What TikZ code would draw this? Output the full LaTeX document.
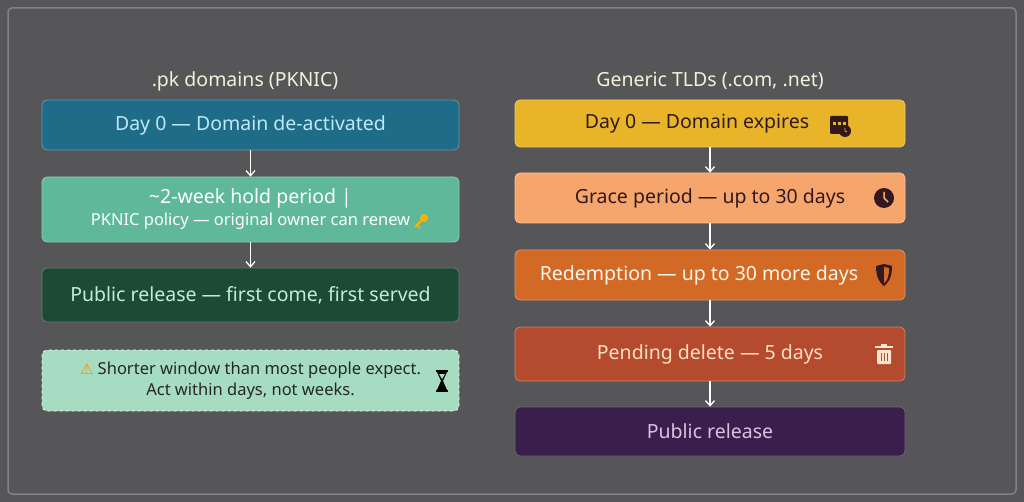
\documentclass[tikz,border=0pt]{standalone}
\usepackage{fontspec}
\setmainfont{Noto Sans}
\newfontfamily\symfont{DejaVu Sans}
\usetikzlibrary{positioning, arrows.meta, calc}
\definecolor{bgouter}{RGB}{86,86,88}
\definecolor{frameline}{RGB}{130,130,132}
\definecolor{pkblue}{RGB}{31,108,137}
\definecolor{pkbluetext}{RGB}{190,232,245}
\definecolor{pkmint}{RGB}{95,184,154}
\definecolor{pkdark}{RGB}{28,74,52}
\definecolor{pkdarktext}{RGB}{190,240,210}
\definecolor{pknote}{RGB}{166,220,193}
\definecolor{gyellow}{RGB}{232,181,42}
\definecolor{gpeach}{RGB}{246,166,108}
\definecolor{gorange}{RGB}{210,105,36}
\definecolor{grust}{RGB}{180,74,46}
\definecolor{gpurple}{RGB}{58,30,76}
\definecolor{titletext}{RGB}{245,240,215}
\definecolor{icondark}{RGB}{50,25,30}

\tikzset{
    stage/.style={rectangle, rounded corners=5pt, draw=#1!70!white, fill=#1, line width=0.8pt, align=center, inner sep=0pt, font=\fontsize{19.5}{23}\selectfont},
    leftstage/.style={stage=#1, minimum width=417pt},
    rightstage/.style={stage=#1, minimum width=390pt},
    coltitle/.style={font=\fontsize{19.5}{23}\selectfont, text=titletext},
    flow/.style={-{Straight Barb[length=5pt,width=9pt]}, draw=white, line width=1.3pt},
}

\begin{document}
\begin{tikzpicture}[x=1pt, y=-1pt]
    % background and frame
    \fill[bgouter] (0,0) rectangle (1024,502);
    \draw[frameline, line width=1.5pt, rounded corners=4pt] (8,8) rectangle (1016,494);
    \useasboundingbox (0,0) rectangle (1024,502);

    % .pk column
    \node[coltitle] (pktitle) at (245,81) {.pk domains (PKNIC)};
    \node[leftstage=pkblue, minimum height=50pt, text=pkbluetext] (pk0) at (250.5,125) {Day 0 — Domain de-activated};
    \node[leftstage=pkmint, minimum height=65pt, text=white] (pk1) at (250.5,209.5)
        {\textasciitilde 2-week hold period |\\[-1pt]
         {\fontsize{16.5}{19}\selectfont PKNIC policy — original owner can renew\hspace{22pt}}};
    \node[leftstage=pkdark, minimum height=54pt, text=pkdarktext] (pk2) at (250.5,295) {Public release — first come, first served};
    \node[leftstage=pknote, draw=white!80!pknote, dashed, minimum height=61pt, text=black!85, font=\fontsize{16.5}{21}\selectfont] (pknote) at (250.5,380.5)
        {{\symfont\color{orange!90!yellow}\fontsize{15}{16}\selectfont ⚠}~Shorter window than most people expect.\\
         Act within days, not weeks.};
    \draw[flow] (pk0) -- (pk1);
    \draw[flow] (pk1) -- (pk2);

    % key icon
    \coordinate (key) at (421,222);
    \fill[orange!60!yellow] ($(key)+(3,-4)$) circle (4pt);
    \draw[orange!60!yellow, line width=2pt] ($(key)+(2,-3)$) -- ($(key)+(-6,5)$);
    \draw[orange!60!yellow, line width=1.5pt] ($(key)+(-4,3)$) -- ($(key)+(-1,6)$);
    % hourglass icon
    \coordinate (glass) at (442,381);
    \fill[black] ($(glass)+(-6,-11)$) rectangle ($(glass)+(6,-9)$);
    \fill[black] ($(glass)+(-6,9)$) rectangle ($(glass)+(6,11)$);
    \fill[black] ($(glass)+(-5,-9)$) -- ($(glass)+(5,-9)$) -- ($(glass)+(1,0)$) -- ($(glass)+(5,9)$) -- ($(glass)+(-5,9)$) -- ($(glass)+(-1,0)$) -- cycle;
    \fill[pknote] ($(glass)+(-3,-7)$) -- ($(glass)+(3,-7)$) -- ($(glass)+(0,-2)$) -- cycle;

    % generic column
    \node[coltitle] (gtitle) at (710,81) {Generic TLDs (.com, .net)};
    \node[rightstage=gyellow, minimum height=47pt, text=icondark] (g0) at (710,123.5) {Day 0 — Domain expires\hspace{26pt}};
    \node[rightstage=gpeach, minimum height=50pt, text=icondark] (g1) at (710,198) {Grace period — up to 30 days};
    \node[rightstage=gorange, minimum height=50pt, text=white!92!orange] (g2) at (710,275) {\hspace{4pt}Redemption — up to 30 more days\hspace{26pt}};
    \node[rightstage=grust, minimum height=54pt, text=white!75!orange] (g3) at (710,354) {Pending delete — 5 days};
    \node[rightstage=gpurple, minimum height=49pt, text=violet!25!white] (g4) at (710,431.5) {Public release};
    \foreach \a/\b in {g0/g1, g1/g2, g2/g3, g3/g4} {
        \draw[flow] (\a) -- (\b);
    }

    % calendar icon
    \coordinate (cal) at (839,124);
    \fill[icondark, rounded corners=1pt] ($(cal)+(-9,-8)$) rectangle ($(cal)+(9,10)$);
    \foreach \i in {-5,0,5} { \fill[gyellow] ($(cal)+(\i-1.5,-2)$) rectangle ($(cal)+(\i+1.5,1)$); }
    \fill[icondark] ($(cal)+(6,7)$) circle (6pt);
    \draw[gyellow, line width=0.8pt] ($(cal)+(6,4)$) -- ($(cal)+(6,7)$) -- ($(cal)+(8,8)$);
    % clock icon
    \coordinate (clk) at (884,198);
    \fill[icondark] (clk) circle (10pt);
    \draw[gpeach, line width=1.5pt] ($(clk)+(0,-6)$) -- (clk) -- ($(clk)+(4,4)$);
    % shield icon
    \coordinate (shd) at (884,275);
    \fill[icondark] ($(shd)+(-8,-9)$) -- ($(shd)+(0,-11)$) -- ($(shd)+(8,-9)$) .. controls ($(shd)+(8,3)$) and ($(shd)+(4,8)$) .. ($(shd)+(0,11)$) .. controls ($(shd)+(-4,8)$) and ($(shd)+(-8,3)$) .. cycle;
    \fill[gorange] ($(shd)+(0,-8)$) -- ($(shd)+(5,-7)$) .. controls ($(shd)+(5,2)$) and ($(shd)+(3,6)$) .. ($(shd)+(0,8)$) -- cycle;
    % trash icon
    \coordinate (bin) at (884,354);
    \fill[white!80!orange] ($(bin)+(-9,-8)$) rectangle ($(bin)+(9,-6)$);
    \fill[white!80!orange] ($(bin)+(-3,-10)$) rectangle ($(bin)+(3,-8)$);
    \fill[white!80!orange, rounded corners=1pt] ($(bin)+(-7,-4)$) rectangle ($(bin)+(7,10)$);
    \foreach \i in {-3,0,3} { \draw[grust, line width=1pt] ($(bin)+(\i,-1)$) -- ($(bin)+(\i,7)$); }
\end{tikzpicture}
\end{document}
